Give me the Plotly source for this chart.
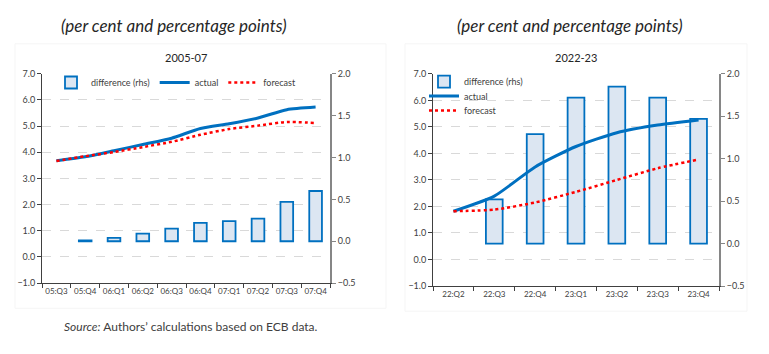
import plotly.graph_objects as go

# ---- data ----
cats_a = ["05:Q3", "05:Q4", "06:Q1", "06:Q2", "06:Q3", "06:Q4", "07:Q1", "07:Q2", "07:Q3", "07:Q4"]
diff_a = [None, 0.01, 0.04, 0.09, 0.15, 0.22, 0.24, 0.27, 0.47, 0.60]
actual_a = [3.68, 3.83, 4.06, 4.30, 4.54, 4.91, 5.09, 5.31, 5.63, 5.73]
forecast_a = [3.67, 3.85, 4.01, 4.20, 4.40, 4.67, 4.89, 5.02, 5.16, 5.12]

cats_b = ["22:Q2", "22:Q3", "22:Q4", "23:Q1", "23:Q2", "23:Q3", "23:Q4"]
diff_b = [None, 0.52, 1.29, 1.72, 1.85, 1.72, 1.47]
actual_b = [1.82, 2.39, 3.49, 4.26, 4.78, 5.07, 5.26]
forecast_b = [1.82, 1.88, 2.15, 2.55, 3.00, 3.44, 3.77]

title_text = "(per cent and percentage points)"
sub_a = "2005-07"
sub_b = "2022-23"
source_text = "<i>Source:</i> Authors\u2019 calculations based on ECB data."

W, H = 769, 354
BLUE = "#0070C0"
FILL = "#DCE6F2"
RED = "#FF0000"
FONT = "Lato"
TXT = "#404040"


def px_x(p):
    return p / W


def px_y(p):
    return 1 - p / H


fig = go.Figure()

# left chart
fig.add_trace(go.Bar(x=cats_a, y=diff_a, name="difference (rhs)", xaxis="x", yaxis="y",
                     marker=dict(color=FILL, line=dict(color=BLUE, width=1.8)), width=0.44,
                     legend="legend"))
fig.add_trace(go.Scatter(x=cats_a, y=actual_a, name="actual", mode="lines", xaxis="x", yaxis="y2",
                         line=dict(color=BLUE, width=3, shape="spline", smoothing=0.6), legend="legend"))
fig.add_trace(go.Scatter(x=cats_a, y=forecast_a, name="forecast", mode="lines", xaxis="x", yaxis="y2",
                         line=dict(color=RED, width=2.5, dash="dot", shape="spline", smoothing=0.6),
                         legend="legend"))

# right chart
fig.add_trace(go.Bar(x=cats_b, y=diff_b, name="difference (rhs)", xaxis="x2", yaxis="y3",
                     marker=dict(color=FILL, line=dict(color=BLUE, width=1.8)), width=0.41,
                     legend="legend2"))
fig.add_trace(go.Scatter(x=cats_b, y=actual_b, name="actual", mode="lines", xaxis="x2", yaxis="y4",
                         line=dict(color=BLUE, width=3, shape="spline", smoothing=0.6), legend="legend3"))
fig.add_trace(go.Scatter(x=cats_b, y=forecast_b, name="forecast", mode="lines", xaxis="x2", yaxis="y4",
                         line=dict(color=RED, width=2.5, dash="dot", shape="spline", smoothing=0.6),
                         legend="legend4"))

tickfont = dict(family=FONT, size=9, color=TXT)
xtickfont = dict(family=FONT, size=8, color=TXT)

xcommon = dict(type="category", showline=True, linecolor="#404040", linewidth=1, ticks="outside",
               tickson="boundaries", ticklen=4, tickcolor="#404040", tickfont=xtickfont, tickangle=0,
               showgrid=False, zeroline=False, fixedrange=True)
rcommon = dict(side="right", range=[-0.5, 2.0], dtick=0.5, tickformat=".1f", showgrid=False,
               zeroline=False, showline=True, linecolor="#868686", linewidth=2, ticks="outside",
               ticklen=4, tickcolor="#868686", tickfont=tickfont)
lcommon = dict(side="left", range=[-1, 7], dtick=1, tickformat=".1f", showgrid=True,
               gridcolor="#D9D9D9", griddash="dash", gridwidth=1, zeroline=False, showline=True,
               linecolor="#404040", linewidth=1, ticks="outside", ticklen=4, tickcolor="#404040",
               tickfont=tickfont)

dom_xa = [px_x(42), px_x(330)]
dom_ya = [px_y(286), px_y(70)]
dom_xb = [px_x(433), px_x(719)]
dom_yb = [px_y(289), px_y(70)]

legfont = dict(family=FONT, size=9, color=TXT)


def leg(x, y, orient="v"):
    return dict(orientation=orient, x=px_x(x), y=px_y(y), xanchor="left", yanchor="top",
                font=legfont, bgcolor="rgba(0,0,0,0)", itemclick=False, itemdoubleclick=False)


fig.update_layout(
    width=W, height=H, margin=dict(l=0, r=0, t=0, b=0),
    paper_bgcolor="white", plot_bgcolor="rgba(0,0,0,0)",
    font=dict(family=FONT, color=TXT),
    barmode="overlay",
    xaxis=dict(domain=dom_xa, anchor="y", **xcommon),
    yaxis=dict(domain=dom_ya, anchor="x", **rcommon),
    yaxis2=dict(overlaying="y", anchor="x", **lcommon),
    xaxis2=dict(domain=dom_xb, anchor="y3", **xcommon),
    yaxis3=dict(domain=dom_yb, anchor="x2", **rcommon),
    yaxis4=dict(overlaying="y3", anchor="x2", **lcommon),
    legend=leg(51, 64, "h"),
    legend2=leg(424, 63),
    legend3=leg(424, 78),
    legend4=leg(424, 93),
    showlegend=True,
)

fig.update_yaxes(fixedrange=True)

annots = [
    dict(text="<i>" + title_text + "</i>", x=px_x(174), y=px_y(20), showarrow=False,
         font=dict(family=FONT, size=17, color="#262626")),
    dict(text="<i>" + title_text + "</i>", x=px_x(570), y=px_y(20), showarrow=False,
         font=dict(family=FONT, size=17, color="#262626")),
    dict(text=sub_a, x=px_x(186), y=px_y(53), showarrow=False,
         font=dict(family=FONT, size=11, color="#262626")),
    dict(text=sub_b, x=px_x(576), y=px_y(53), showarrow=False,
         font=dict(family=FONT, size=11, color="#262626")),
    dict(text=source_text, x=px_x(191), y=px_y(331), showarrow=False,
         font=dict(family=FONT, size=12, color="#404040")),
]
for a in annots:
    a.update(xref="paper", yref="paper", xanchor="center", yanchor="middle")
fig.update_layout(annotations=annots)

shapes = [
    dict(type="rect", xref="paper", yref="paper", x0=px_x(15), x1=px_x(386), y0=px_y(312), y1=px_y(39),
         line=dict(color="#F5F5F5", width=1), layer="below"),
    dict(type="rect", xref="paper", yref="paper", x0=px_x(405), x1=px_x(747), y0=px_y(315), y1=px_y(39),
         line=dict(color="#F5F5F5", width=1), layer="below"),
]
fig.update_layout(shapes=shapes)

fig.write_html("out.html")
